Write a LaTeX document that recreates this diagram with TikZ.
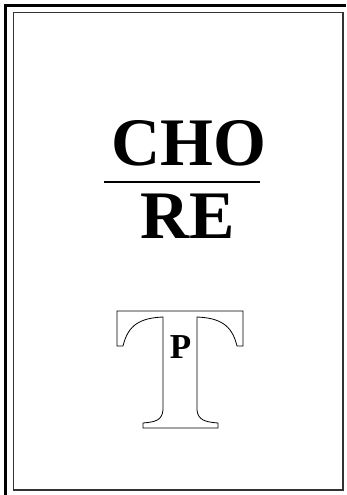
\documentclass[tikz,border=0pt]{standalone}
\usepackage{fontspec}
\setmainfont{Liberation Serif}
\begin{document}
\begin{tikzpicture}[x=1pt,y=-1pt,
  bigword/.style={font=\fontsize{68}{68}\selectfont\bfseries,inner sep=0pt,anchor=base},
  smallword/.style={font=\fontsize{35}{35}\selectfont\bfseries,inner sep=0pt,anchor=base},
  outline/.style={draw=black,line width=0.8pt,line join=miter}]
\useasboundingbox (0,0) rectangle (346,495);
% outer thick frame
\draw[line width=3.5pt] (5.5,495) -- (5.5,5.5) -- (346,5.5);
% inner frame
\draw[line width=1.3pt,black!80] (13.5,12.5) rectangle (343,490);
% title
\node[bigword] (cho) at (188.5,165) {CHO};
\node[bigword] (re) at (187.5,238) {RE};
\coordinate (la) at (104,182);
\coordinate (lb) at (260,182);
\draw[line width=2.6pt] (la) -- (lb);
% outlined T
\draw[outline] (117,311) -- (243,311) -- (243,346) -- (237,346)
  .. controls (232,325) and (220,318) .. (197,317)
  -- (197,410) .. controls (198,420) and (205,422) .. (218,423)
  -- (218,428) -- (143,428) -- (143,423)
  .. controls (156,422) and (162,420) .. (163,410)
  -- (163,317) .. controls (140,318) and (128,325) .. (123,346)
  -- (117,346) -- cycle;
\node[smallword] (p) at (180.5,358.5) {P};
\end{tikzpicture}
\end{document}
